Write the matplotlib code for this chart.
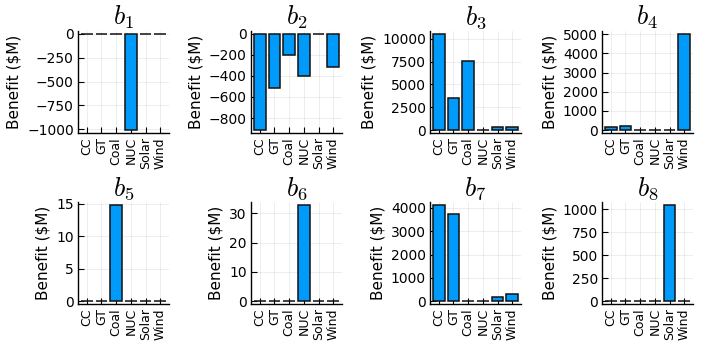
import matplotlib
matplotlib.use("Agg")
import matplotlib.pyplot as plt

plt.rcParams["mathtext.fontset"] = "cm"
plt.rcParams["font.family"] = "DejaVu Sans"

techs = ["CC", "GT", "Coal", "NUC", "Solar", "Wind"]

b1 = [0, 0, 0, -1008, 0, 0]
b2 = [-915, -517, -205, -403, -4, -311]
b3 = [10540, 3550, 7540, 0, 290, 390]
b4 = [160, 225, 0, 0, 0, 5020]
b5 = [0, 0, 14.8, 0, 0, 0]
b6 = [0, 0, 0, 32.9, 0, 0]
b7 = [4130, 3720, 0, 0, 190, 300]
b8 = [0, 0, 0, 0, 1050, 0]

benefits = [b1, b2, b3, b4, b5, b6, b7, b8]
yticks = [
    [0, -250, -500, -750, -1000],
    [0, -200, -400, -600, -800],
    [0, 2500, 5000, 7500, 10000],
    [0, 1000, 2000, 3000, 4000, 5000],
    [0, 5, 10, 15],
    [0, 10, 20, 30],
    [0, 1000, 2000, 3000, 4000],
    [0, 250, 500, 750, 1000],
]

W, H = 706, 341
fig = plt.figure(figsize=(W / 100, H / 100), dpi=100)

lefts = [78, 251, 430, 602]
rows = [(31, 133), (202, 304)]
aw = 91

for i, vals in enumerate(benefits):
    r, c = divmod(i, 4)
    top, bot = rows[r]
    ax = fig.add_axes([lefts[c] / W, 1 - bot / H, aw / W, (bot - top) / H])
    x = range(len(techs))
    ax.bar(x, vals, width=0.8, color="#009AFA", edgecolor="#111111", linewidth=1.1, zorder=3)
    ax.set_xticks(list(x))
    ax.set_xticklabels(techs, rotation=90, fontsize=9)
    ax.set_yticks(yticks[i])
    ax.tick_params(axis="y", labelsize=10, pad=3)
    ax.tick_params(axis="x", pad=3)
    ax.tick_params(direction="in", length=4, width=0.8)
    lo, hi = min(min(vals), 0), max(max(vals), 0)
    pad = 0.03 * (hi - lo)
    ax.set_ylim(lo - pad, hi + pad)
    ax.set_xlim(-0.6, 5.6)
    ax.grid(True, color="black", alpha=0.08, linewidth=0.6, zorder=0)
    for s in ["top", "right"]:
        ax.spines[s].set_visible(False)
    for s in ["left", "bottom"]:
        ax.spines[s].set_linewidth(1.0)
    ax.set_ylabel("Benefit ($M)", fontsize=11, labelpad=4)
    ax.set_title(r"$b_{%d}$" % (i + 1), fontsize=19, pad=2)

fig.savefig("out.png", dpi=100)
